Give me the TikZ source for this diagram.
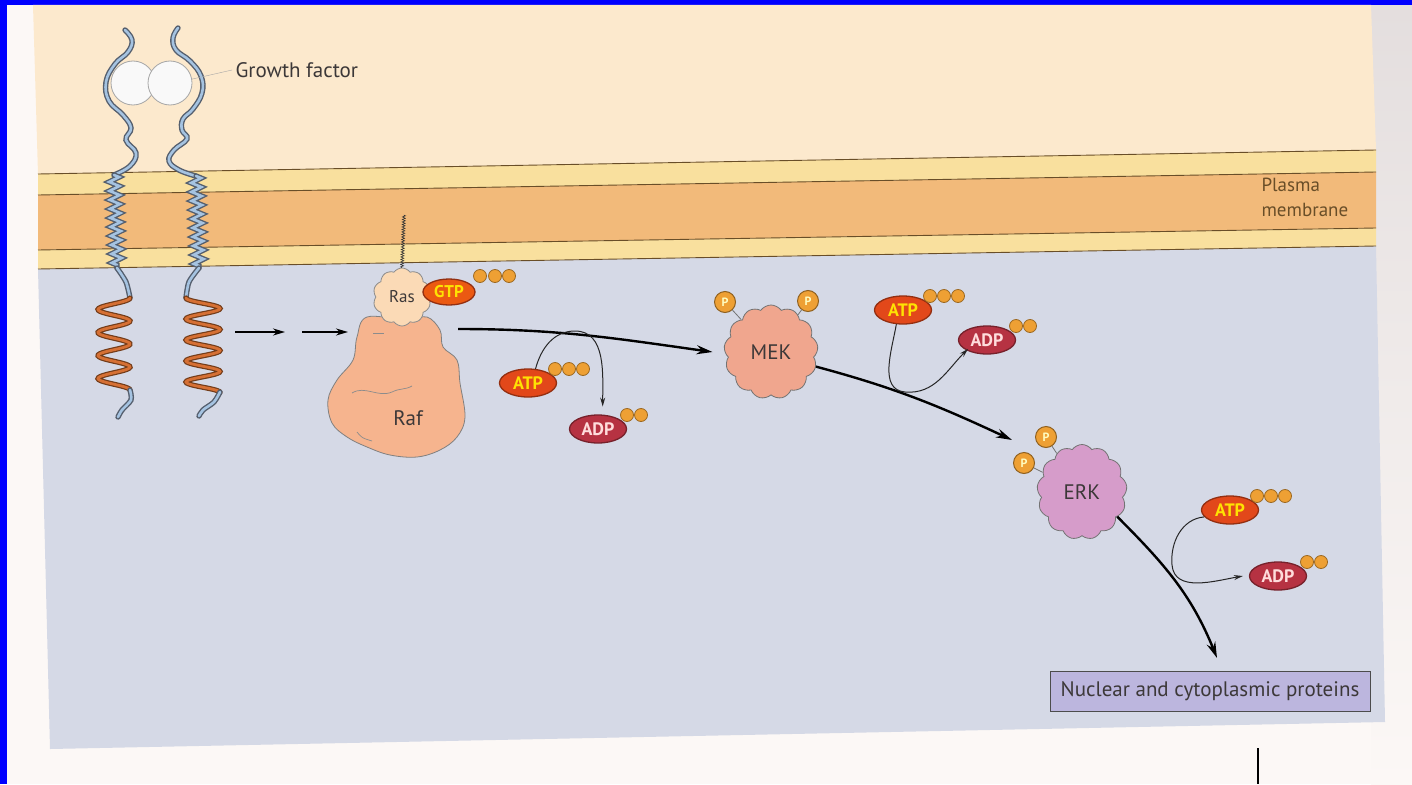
\documentclass[tikz,border=0pt]{standalone}
\usepackage{fontspec}
\setmainfont{PT Sans}
\usetikzlibrary{positioning,shapes.geometric,shapes.symbols,arrows.meta,decorations.pathmorphing,calc}

\definecolor{framebl}{RGB}{0,0,255}
\definecolor{pagewh}{RGB}{252,248,246}
\definecolor{outside}{RGB}{252,233,205}
\definecolor{lipidlt}{RGB}{249,224,158}
\definecolor{lipiddk}{RGB}{242,186,122}
\definecolor{memline}{RGB}{105,78,40}
\definecolor{cytosol}{RGB}{213,217,230}
\definecolor{rcptline}{RGB}{85,95,110}
\definecolor{rcptfill}{RGB}{165,195,225}
\definecolor{kinline}{RGB}{115,60,25}
\definecolor{kinfill}{RGB}{214,112,52}
\definecolor{rasfill}{RGB}{251,218,182}
\definecolor{raffill}{RGB}{246,180,142}
\definecolor{mekfill}{RGB}{240,166,142}
\definecolor{erkfill}{RGB}{214,156,202}
\definecolor{atpfill}{RGB}{226,72,26}
\definecolor{adpfill}{RGB}{182,50,66}
\definecolor{phosfill}{RGB}{238,160,52}
\definecolor{boxfill}{RGB}{188,182,222}
\definecolor{labeltx}{RGB}{60,56,56}

\tikzset{
  rcpt/.style={draw=rcptline, line width=1.4pt, double=rcptfill, double distance=2.6pt, line cap=round},
  kin/.style={draw=kinline, line width=1.2pt, double=kinfill, double distance=2.8pt, line cap=round},
  tm/.style={rcpt, decorate, decoration={zigzag, segment length=9pt, amplitude=5pt}},
  sig/.style={line width=2.4pt, -{Stealth[length=16pt,width=9pt]}},
  side/.style={line width=1pt, black!85, -{Stealth[length=9pt,width=5pt]}},
  blob/.style={cloud, cloud puffs=13, cloud puff arc=110, aspect=1, draw=black!55, line width=0.8pt, text=labeltx},
  nucl/.style={ellipse, inner sep=0pt, minimum width=57pt, minimum height=28pt, line width=1.3pt,
    font=\bfseries\fontsize{18}{18}\selectfont},
  atp/.style={nucl, fill=atpfill, draw=atpfill!65!black, text=yellow!85!orange},
  adp/.style={nucl, fill=adpfill, draw=adpfill!65!black, text=pink!55!white},
  pball/.style={circle, inner sep=0pt, minimum size=13pt, fill=phosfill, draw=phosfill!65!black, line width=0.8pt},
  pgrp/.style={circle, inner sep=0pt, minimum size=21pt, fill=phosfill, draw=phosfill!60!black, line width=1pt,
    text=yellow!25!white, font=\bfseries\fontsize{12}{12}\selectfont},
}

\begin{document}
\begin{tikzpicture}[x=1pt, y=1pt, font=\fontsize{21}{24}\selectfont]
    \useasboundingbox (0,0) rectangle (1412,-784);

    %% page and frame
    \fill[pagewh] (0,0) rectangle (1412,-784);
    \shade[top color=black!3!pink!30!gray!30, bottom color=pagewh] (1371,-5) rectangle (1412,-784);
    \fill[framebl] (0,0) rectangle (1412,-5);
    \fill[framebl] (0,0) rectangle (7,-784);

    %% corners of the membrane layers
    \coordinate (mL0) at (38,-174);  \coordinate (mR0) at (1376,-150);
    \coordinate (mL1) at (38,-195);  \coordinate (mR1) at (1376,-172);
    \coordinate (mL2) at (38,-250);  \coordinate (mR2) at (1376,-228);
    \coordinate (mL3) at (38,-269);  \coordinate (mR3) at (1376,-246);

    %% outside, membrane, cytosol
    \fill[outside] (33,-5) -- (1371,-5) -- (mR0) -- (mL0) -- cycle;
    \fill[lipidlt] (mL0) -- (mR0) -- (mR1) -- (mL1) -- cycle;
    \fill[lipiddk] (mL1) -- (mR1) -- (mR2) -- (mL2) -- cycle;
    \fill[lipidlt] (mL2) -- (mR2) -- (mR3) -- (mL3) -- cycle;
    \fill[cytosol] (mL3) -- (mR3) -- (1385,-722) -- (50,-749) -- cycle;
    \foreach \k in {0,1,2,3}
        \draw[memline, line width=0.9pt] (mL\k) -- (mR\k);
    \node[anchor=west, align=left, text=memline, font=\fontsize{19}{25}\selectfont] (pmlab) at (1258,-197) {Plasma\\membrane};

    %% growth factor dimer
    \node[circle, minimum size=44pt, fill=white!95!gray, draw=gray!70, line width=0.8pt] (gfA) at (133,-83) {};
    \node[circle, minimum size=44pt, fill=white!95!gray, draw=gray!70, line width=0.8pt] (gfB) at (170,-83) {};
    \node[anchor=west, text=labeltx] (gflab) at (232,-70) {Growth factor};

    %% receptor chains
    \draw[rcpt] plot[smooth, tension=0.7] coordinates {(125,-30) (132,-40) (128,-52) (115,-64) (106,-82) (109,-101)
        (123,-115) (131,-128) (126,-140) (136,-153) (130,-166) (114,-175)};
    \draw[rcpt] plot[smooth, tension=0.7] coordinates {(178,-28) (173,-38) (176,-50) (190,-61) (201,-76) (202,-93)
        (193,-109) (183,-119) (182,-130) (187,-139) (174,-150) (169,-161) (179,-170) (196,-176)};
    \draw[gray!70] (gfB.10) -- (gflab.west);
    \draw[tm] (114,-175) -- (117,-268);
    \draw[tm] (196,-176) -- (199,-268);
    \draw[rcpt] plot[smooth] coordinates {(117,-268) (126,-282) (130,-298)};
    \draw[rcpt] plot[smooth] coordinates {(199,-268) (189,-282) (186,-298)};
    \draw[kin] plot[domain=0:4, samples=90, smooth] ({114+16*cos(\x*360)}, {-(298+23*\x)});
    \draw[kin] plot[domain=0:4.5, samples=100, smooth] ({203-17*cos(\x*360)}, {-(298+21*\x)});
    \draw[rcpt] plot[smooth] coordinates {(130,-390) (131,-400) (122,-410) (118,-417)};
    \draw[rcpt] plot[smooth] coordinates {(220,-392) (214,-402) (203,-410) (199,-416)};

    %% relay arrows
    \coordinate (rA) at (235,-332);  \coordinate (rB) at (285,-332);
    \coordinate (rC) at (302,-332);  \coordinate (rD) at (348,-332);
    \draw[line width=1.8pt, -{Stealth[length=12pt,width=7pt]}] (rA) -- (rB);
    \draw[line width=1.8pt, -{Stealth[length=12pt,width=7pt]}] (rC) -- (rD);

    %% Raf with Ras on top
    \draw[black!50, line width=0.8pt, fill=raffill] plot[smooth cycle, tension=0.6] coordinates {(367,-317) (357,-337)
        (353,-360) (337,-380) (328,-400) (332,-423) (347,-437) (367,-447) (390,-455) (417,-457) (440,-450)
        (457,-437) (465,-417) (460,-383) (457,-360) (443,-347) (440,-330) (427,-317) (407,-320)};
    \draw[black!45, line width=0.7pt] (352,-393) .. controls (365,-385) and (378,-398) .. (392,-392)
        .. controls (400,-388) and (405,-390) .. (412,-386);
    \draw[black!45, line width=0.7pt] (373,-333) -- (384,-333);
    \draw[black!45, line width=0.7pt] (357,-432) .. controls (362,-438) .. (372,-441);
    \node[text=labeltx] (raf) at (408,-418) {Raf};
    \coordinate (rafR) at (458,-329);

    \node[blob, cloud puffs=10, fill=rasfill, minimum width=58pt, minimum height=58pt, draw=black!45,
        font=\fontsize{17}{17}\selectfont] (ras) at (402,-297) {Ras};
    \coordinate (rasTail) at (404,-215);
    \draw[black!80, line width=0.6pt, decorate, decoration={zigzag, segment length=2.5pt, amplitude=1.5pt}]
        (ras.north) -- (rasTail);
    \node[atp, fill=atpfill!70!orange, minimum width=52pt, minimum height=26pt,
        font=\bfseries\fontsize{17}{17}\selectfont] (gtp) at (449,-292) {GTP};
    \foreach \d [count=\i] in {31,46,60}
        \node[pball] (gtp-\i) at ($(gtp.center)+(\d,16)$) {};

    %% MEK
    \node[blob, fill=mekfill, minimum width=94pt, minimum height=94pt] (mek) at (771,-352) {MEK};
    \node[pgrp] (mekP1) at (725,-302) {P};
    \node[pgrp] (mekP2) at (808,-301) {P};
    \draw[black!55, line width=0.8pt] (mekP1) -- (mek);
    \draw[black!55, line width=0.8pt] (mekP2) -- (mek);

    %% ERK
    \node[blob, fill=erkfill, minimum width=90pt, minimum height=95pt] (erk) at (1082,-492) {ERK};
    \node[pgrp] (erkP1) at (1046,-437) {P};
    \node[pgrp] (erkP2) at (1024,-463) {P};
    \draw[black!55, line width=0.8pt] (erkP1) -- (erk);
    \draw[black!55, line width=0.8pt] (erkP2) -- (erk);

    %% target box
    \node[draw=black!70, line width=1pt, fill=boxfill, minimum width=320pt, minimum height=40pt,
        text=labeltx] (targets) at (1210,-691) {Nuclear and cytoplasmic proteins};

    %% ATP / ADP pairs
    \node[atp] (atpA) at (528,-383) {ATP};
    \node[adp] (adpA) at (598,-429) {ADP};
    \node[atp] (atpB) at (903,-310) {ATP};
    \node[adp] (adpB) at (987,-340) {ADP};
    \node[atp] (atpC) at (1230,-510) {ATP};
    \node[adp] (adpC) at (1278,-576) {ADP};
    \foreach \n in {atpA,atpB,atpC}
        \foreach \d [count=\i] in {27,41,55}
            \node[pball] (\n-\i) at ($(\n.center)+(\d,14)$) {};
    \foreach \n in {adpA,adpB,adpC}
        \foreach \d [count=\i] in {29,43}
            \node[pball] (\n-\i) at ($(\n.center)+(\d,14)$) {};

    %% kinase cascade
    \coordinate (erkIn) at (1012,-440);
    \coordinate (tgtIn) at (1217,-658);
    \draw[sig] (rafR) to[out=0, in=172] ([xshift=-12pt]mek.west);
    \draw[sig] (mek.-18) to[out=-15, in=155] (erkIn);
    \draw[sig] (erk.-35) to[out=-45, in=112] (tgtIn);

    %% phosphate transfer
    \coordinate (jA) at (575,-331);
    \coordinate (jB) at (905,-392);
    \coordinate (jC) at (1172,-565);
    \draw[side] (atpA.62) to[out=75, in=180] (jA) to[out=0, in=90] ([yshift=8pt]adpA.72);
    \draw[side] (atpB.245) to[out=-100, in=175] (jB) to[out=-5, in=-135] ([shift={(-2pt,3pt)}]adpB.215);
    \draw[side] (atpC.195) to[out=185, in=95] (jC) to[out=-85, in=190] ([xshift=-6pt]adpC.west);

    %% page edge mark
    \coordinate (markT) at (1258,-748);
    \coordinate (markB) at (1258,-784);
    \draw[line width=1.6pt] (markT) -- (markB);
\end{tikzpicture}
\end{document}
